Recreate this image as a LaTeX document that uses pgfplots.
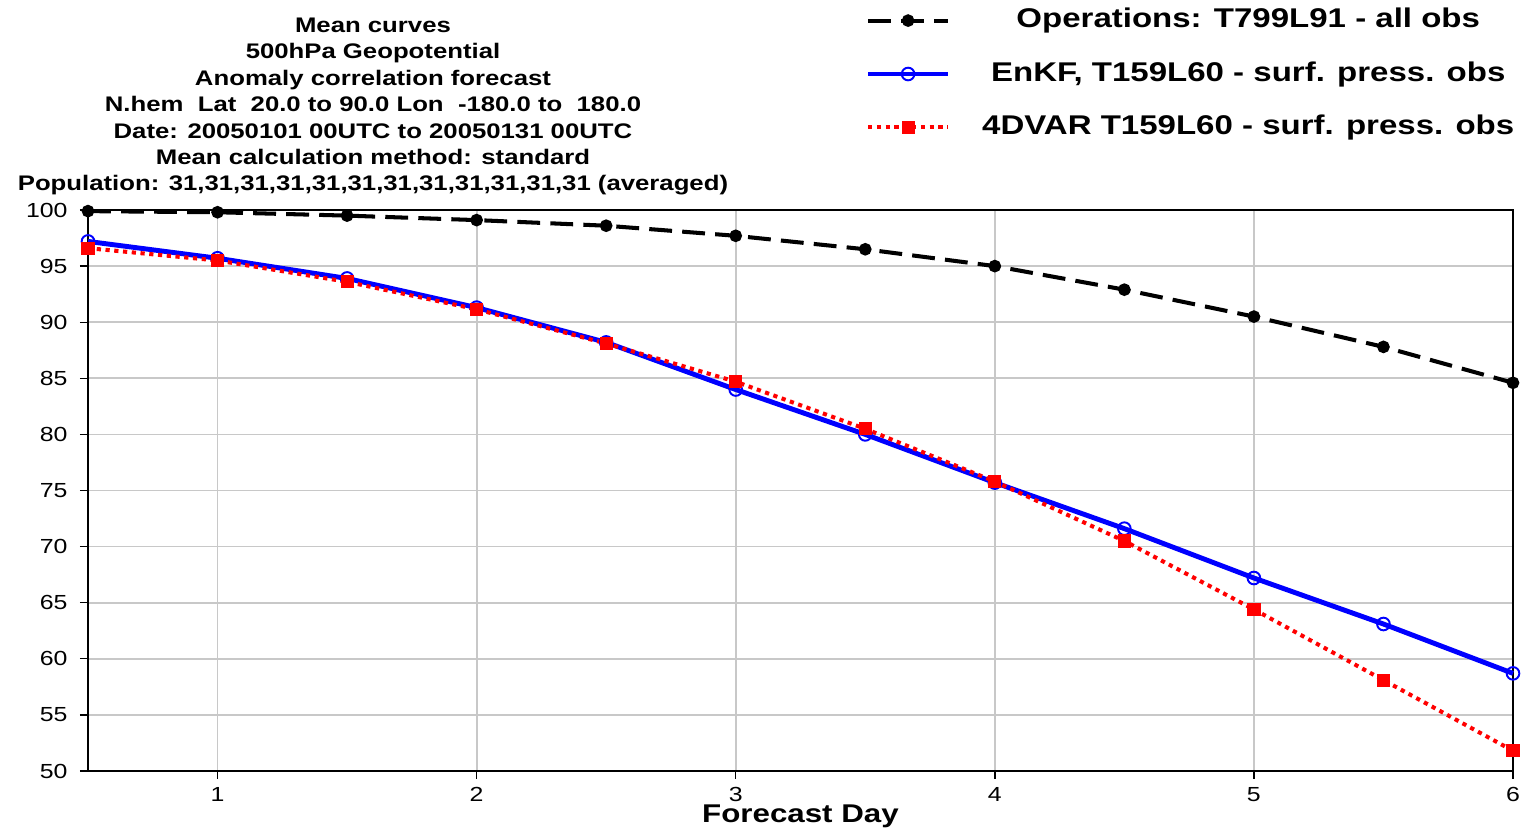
\documentclass[border=0pt]{standalone}
\usepackage{fontspec}
\setmainfont{Liberation Sans}[FakeStretch=1.22]
\usepackage{pgfplots}
\pgfplotsset{compat=1.18}

\definecolor{gridgray}{RGB}{200,200,200}

\begin{document}
\begin{tikzpicture}
% fixed page frame: the axis box sits at (0,0) -- (142.5mm,56.1mm)
\path[use as bounding box] (-8.8mm,-5.8mm) rectangle (143.8mm,77.1mm);
\begin{axis}[
    at={(0,0)}, anchor=south west,
    scale only axis,
    width=142.5mm,
    height=56.1mm,
    xmin=0.5, xmax=6,
    ymin=50, ymax=100,
    xtick={1,2,3,4,5,6},
    ytick={50,55,...,100},
    xtick pos=bottom,
    ytick pos=left,
    grid=major,
    major grid style={gridgray, line width=0.5pt},
    tick align=outside,
    major tick length=0.8mm,
    tick style={black, line width=0.4pt},
    axis line style={black, line width=0.5pt},
    clip=false,
    /pgf/number format/assume math mode=true,
    tick label style={font=\fontsize{5.8}{7}\selectfont},
    xticklabel style={yshift=1.1pt},
    xlabel={Forecast Day},
    xlabel style={at={(axis description cs:0.5,0)}, anchor=north, yshift=-3.3mm, inner sep=0pt,
        font=\fontsize{7.3}{8}\selectfont\bfseries},
    title={Mean curves\\500hPa Geopotential\\Anomaly correlation forecast\\
        N.hem\ \ Lat\ \ 20.0 to 90.0 Lon\ \ -180.0 to\ \ 180.0\\
        Date: 20050101 00UTC to 20050131 00UTC\\
        Mean calculation method: standard\\
        Population: 31,31,31,31,31,31,31,31,31,31,31,31 (averaged)},
    title style={at={(axis description cs:0.2,1)}, anchor=south, yshift=-2pt, inner sep=0pt,
        align=center, font=\fontsize{6}{7.5}\selectfont\bfseries},
    legend style={at={(axis description cs:1.0088,1.374)}, anchor=north east, draw=none, fill=none,
        font=\fontsize{7.7}{9}\selectfont\bfseries, row sep=8pt, column sep=9pt,
        nodes={inner sep=0pt, text height=5.6pt, text depth=1.6pt}},
    legend cell align=center,
    legend image code/.code={\draw[mark repeat=2,mark phase=2] plot coordinates {(0mm,0mm) (4mm,0mm) (8mm,0mm)};},
]
\addplot[black, line width=1.15pt, dash pattern=on 6.5pt off 2.9pt,
    mark=*, mark size=1.2pt, mark options={solid}] coordinates {
    (0.5,99.9) (1.0,99.8) (1.5,99.5) (2.0,99.1) (2.5,98.6) (3.0,97.7)
    (3.5,96.5) (4.0,95.0) (4.5,92.9) (5.0,90.5) (5.5,87.8) (6.0,84.6)};
\addlegendentry{Operations: T799L91 - all obs}
\addplot[blue, line width=1.4pt,
    mark=o, mark size=1.8pt, mark options={solid, line width=0.55pt}] coordinates {
    (0.5,97.2) (1.0,95.7) (1.5,93.9) (2.0,91.3) (2.5,88.2) (3.0,84.0)
    (3.5,80.0) (4.0,75.7) (4.5,71.6) (5.0,67.2) (5.5,63.1) (6.0,58.7)};
\addlegendentry{EnKF, T159L60 - surf. press. obs}
\addplot[red, line width=1.15pt, dash pattern=on 1.2pt off 1.3pt,
    mark=square*, mark size=1.3pt, mark options={solid}] coordinates {
    (0.5,96.6) (1.0,95.5) (1.5,93.6) (2.0,91.15) (2.5,88.1) (3.0,84.7)
    (3.5,80.5) (4.0,75.8) (4.5,70.5) (5.0,64.4) (5.5,58.1) (6.0,51.8)};
\addlegendentry{4DVAR T159L60 - surf. press. obs}
\end{axis}
\end{tikzpicture}
\end{document}
